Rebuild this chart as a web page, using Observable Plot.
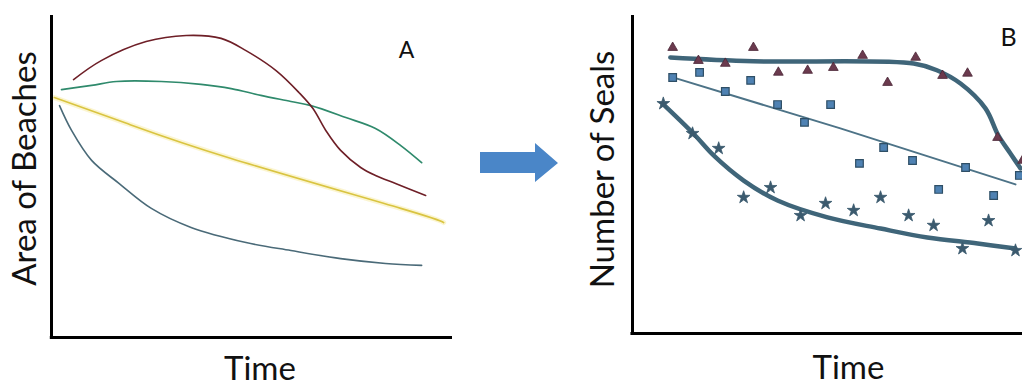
<!DOCTYPE html>
<html><head><meta charset="utf-8">
<script src="https://cdn.jsdelivr.net/npm/d3@7"></script>
<script src="https://cdn.jsdelivr.net/npm/@observablehq/plot@0.6"></script>
<style>
html,body{margin:0;padding:0;background:#fff;}
#wrap{position:relative;width:1022px;height:385px;overflow:hidden;font-family:Lato,sans-serif;}
#wrap > svg{position:absolute;top:0;}
</style></head><body><div id="wrap"></div>
<script>
// ---------- Panel A: Area of Beaches over Time (time 0-100, area 0-100) ----------
const beachRed = [[5.5,80.1],[12.4,86.0],[23.6,91.9],[33.6,93.8],[42.3,92.9],[48.5,89.1],[56.0,82.9],[61.7,76.1],[65.2,71.1],[68.4,64.3],[72.1,58.1],[77.1,52.8],[80.8,50.3],[85.8,47.8],[93.3,44.1]];
const beachGreen = [[2.5,77.0],[10.0,78.3],[16.2,79.5],[27.4,79.5],[37.3,78.6],[44.8,77.3],[52.2,75.2],[59.7,73.3],[64.7,72.0],[73.4,68.3],[80.8,64.9],[87.1,59.6],[92.3,54.3]];
const beachYellow = [[0.7,74.5],[18.7,66.5],[44.8,55.6],[87.1,40.1],[97.8,35.7]];
const beachSlate = [[2.0,72.0],[5.0,64.3],[10.0,55.0],[16.9,47.8],[24.9,40.1],[34.8,34.2],[48.5,29.5],[59.7,27.0],[72.1,24.5],[83.3,23.0],[92.3,22.4]];

// ---------- Panel B: Number of Seals over Time ----------
const sealTriFit = [[9.7,86.8],[31.0,85.6],[72.1,84.9],[78.2,82.7],[84.1,78.6],[90.5,70.8],[93.8,62.3],[96.9,56.6],[99.5,51.9]];
const sealTriPts = [[10.3,89.9],[16.9,85.8],[23.8,84.9],[31.0,89.9],[37.4,82.1],[44.9,82.7],[51.5,83.6],[59.0,87.4],[65.4,78.9],[72.6,86.8],[79.5,81.1],[85.9,81.8],[93.6,61.6],[100,54.4]];
const sealSqFit = [[9.7,80.8],[53.3,64.5],[98.2,46.9]];
const sealSqPts = [[10.3,80.5],[17.2,82.1],[30.3,79.6],[23.8,76.1],[37.2,72.0],[50.8,72.0],[44.1,66.4],[64.4,58.5],[58.2,53.5],[71.8,54.4],[78.5,45.3],[85.4,52.2],[92.6,43.4],[99.2,49.7]];
const sealStarFit = [[7.7,72.3],[15.6,62.9],[20.8,56.0],[28.5,48.1],[37.2,41.8],[50.0,36.5],[63.6,33.0],[75.6,30.2],[88.5,28.3],[98.2,26.7]];
const sealStarPts = [[7.9,72.3],[15.4,62.9],[22.1,58.2],[28.5,42.8],[35.4,45.9],[43.1,37.1],[49.5,40.9],[56.7,38.7],[63.6,42.8],[70.8,37.1],[77.2,34.0],[84.6,26.7],[91.3,35.5],[98.2,26.1]];

const labelsA = {y: "Area of Beaches", x: "Time", panel: "A"};
const labelsB = {y: "Number of Seals", x: "Time", panel: "B"};

const X = d => d[0], Y = d => d[1];
const font = "Lato, 'Open Sans', sans-serif";

const panelA = Plot.plot({
  width: 460, height: 385,
  marginLeft: 51, marginRight: 8, marginTop: 15, marginBottom: 48,
  x: {domain: [0, 100], axis: null},
  y: {domain: [0, 100], axis: null},
  style: {fontFamily: font, background: "transparent", overflow: "visible"},
  marks: [
    Plot.line(beachYellow, {x: X, y: Y, curve: "natural", stroke: "#f3e27a", strokeWidth: 5, strokeOpacity: 0.35}),
    Plot.line(beachYellow, {x: X, y: Y, curve: "natural", stroke: "#d9c441", strokeWidth: 1.6}),
    Plot.line(beachSlate, {x: X, y: Y, curve: "catmull-rom", stroke: "#4a6a78", strokeWidth: 1.6}),
    Plot.line(beachGreen, {x: X, y: Y, curve: "catmull-rom", stroke: "#2f8a6c", strokeWidth: 1.7}),
    Plot.line(beachRed, {x: X, y: Y, curve: "catmull-rom", stroke: "#6e1f27", strokeWidth: 1.6}),
    Plot.ruleX([0], {stroke: "#000", strokeWidth: 3}),
    Plot.ruleY([0], {stroke: "#000", strokeWidth: 3, x1: -0.3, x2: 100}),
    Plot.text([labelsA.y], {frameAnchor: "left", rotate: -90, dx: -26, dy: -8, fontSize: 33, fill: "#111", textAnchor: "middle"}),
    Plot.text([labelsA.x], {frameAnchor: "bottom", lineAnchor: "bottom", dx: 8, dy: 42, fontSize: 33, fill: "#111"}),
    Plot.text([labelsA.panel], {frameAnchor: "top-right", lineAnchor: "bottom", textAnchor: "middle", dx: -46, dy: 42, fontSize: 23, fill: "#111"})
  ]
});
panelA.style.left = "0px";

const panelB = Plot.plot({
  width: 462, height: 385,
  marginLeft: 72, marginRight: 0, marginTop: 15, marginBottom: 52,
  x: {domain: [0, 100], axis: null},
  y: {domain: [0, 100], axis: null},
  style: {fontFamily: font, background: "transparent", overflow: "hidden"},
  marks: [
    Plot.line(sealSqFit, {x: X, y: Y, curve: "natural", stroke: "#4d7387", strokeWidth: 2}),
    Plot.line(sealTriFit, {x: X, y: Y, curve: "catmull-rom", stroke: "#3f6579", strokeWidth: 4.5}),
    Plot.line(sealStarFit, {x: X, y: Y, curve: "catmull-rom", stroke: "#3f6579", strokeWidth: 4.5}),
    Plot.dot(sealTriPts, {x: X, y: Y, symbol: "triangle", r: 3.6, fill: "#6b3a4e", stroke: "#4a2636", strokeWidth: 0.8}),
    Plot.dot(sealSqPts, {x: X, y: Y, symbol: "square", r: 4.3, fill: "#4f82b3", stroke: "#2f4f66", strokeWidth: 1.2}),
    Plot.dot(sealStarPts, {x: X, y: Y, symbol: "star", r: 4, fill: "#3b5a6e", stroke: "#3b5a6e", strokeWidth: 0.8}),
    Plot.ruleX([0], {stroke: "#000", strokeWidth: 3}),
    Plot.ruleY([0], {stroke: "#000", strokeWidth: 3, x1: -0.4, x2: 100}),
    Plot.text([labelsB.y], {frameAnchor: "left", rotate: -90, dx: -29, dy: -5, fontSize: 33, fill: "#111", textAnchor: "middle"}),
    Plot.text([labelsB.x], {frameAnchor: "bottom", lineAnchor: "bottom", dx: 21, dy: 45, fontSize: 33, fill: "#111"}),
    Plot.text([labelsB.panel], {frameAnchor: "top-right", lineAnchor: "bottom", textAnchor: "middle", dx: -14, dy: 30, fontSize: 25, fill: "#111"})
  ]
});
panelB.style.left = "560px";

const wrap = document.getElementById("wrap");
wrap.appendChild(panelA);
// decorative block arrow between the panels
const ns = "http://www.w3.org/2000/svg";
const arrow = document.createElementNS(ns, "svg");
arrow.setAttribute("width", "90"); arrow.setAttribute("height", "60");
arrow.style.position = "absolute"; arrow.style.left = "475px"; arrow.style.top = "133px";
const poly = document.createElementNS(ns, "polygon");
poly.setAttribute("points", "5,19 60,19 60,10 83,30 60,49 60,40 5,40");
poly.setAttribute("fill", "#4a86c8");
arrow.appendChild(poly);
wrap.appendChild(arrow);
wrap.appendChild(panelB);
</script></body></html>
